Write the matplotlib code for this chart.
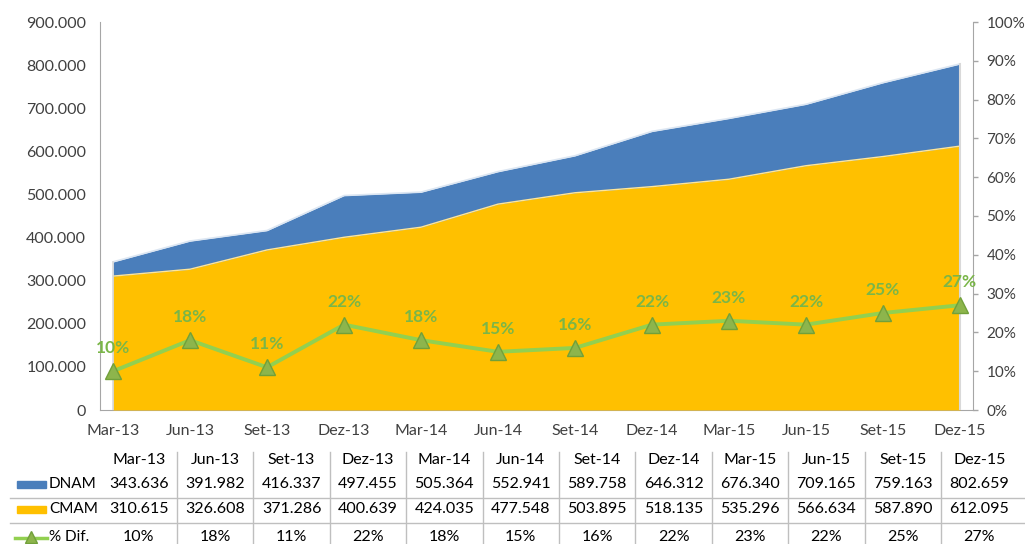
import matplotlib
matplotlib.use("Agg")
import matplotlib.pyplot as plt
from matplotlib.ticker import FuncFormatter, MultipleLocator
from matplotlib.patches import Rectangle
from matplotlib.lines import Line2D

plt.rcParams['font.family'] = ['Lato', 'DejaVu Sans']

meses = ['Mar-13', 'Jun-13', 'Set-13', 'Dez-13', 'Mar-14', 'Jun-14',
         'Set-14', 'Dez-14', 'Mar-15', 'Jun-15', 'Set-15', 'Dez-15']
dnam = [343636, 391982, 416337, 497455, 505364, 552941,
        589758, 646312, 676340, 709165, 759163, 802659]
cmam = [310615, 326608, 371286, 400639, 424035, 477548,
        503895, 518135, 535296, 566634, 587890, 612095]
dif = [10, 18, 11, 22, 18, 15, 16, 22, 23, 22, 25, 27]

azul = '#4A7EBB'
laranja = '#FFC000'
verde = '#92D050'
cinza = '#A6A6A6'
texto = '#404040'
fs = 11.5

W, H = 1025, 544
fig = plt.figure(figsize=(W / 100, H / 100), dpi=100)

x = list(range(len(meses)))
ax = fig.add_axes([100 / W, 1 - 410 / H, 873 / W, 388 / H])
ax.fill_between(x, dnam, color=azul, lw=0, zorder=2)
ax.plot(x, dnam, color='#DCE6F2', lw=1.2, zorder=3)
ax.fill_between(x, cmam, color=laranja, lw=0, zorder=4)
ax.plot(x, cmam, color='#FFE699', lw=1, zorder=5)
# bordas laterais das áreas
ax.plot([x[0], x[0]], [0, dnam[0]], color='#D9D9D9', lw=1.2, zorder=6)
ax.plot([x[-1], x[-1]], [0, dnam[-1]], color='#D9D9D9', lw=1.5, zorder=6)

ax.set_xlim(-0.17, len(meses) - 1 + 0.17)
ax.set_ylim(0, 900000)
ax.yaxis.set_major_locator(MultipleLocator(100000))
ax.yaxis.set_major_formatter(FuncFormatter(lambda v, p: f"{int(v):,}".replace(',', '.')))
ax.set_xticks(x)
ax.set_xticklabels(meses)
ax.tick_params(axis='both', length=0, labelsize=fs, colors=texto)
ax.tick_params(axis='x', pad=10)
ax.tick_params(axis='y', pad=10)
for s in ['top', 'right']:
    ax.spines[s].set_visible(False)
for s in ['left', 'bottom']:
    ax.spines[s].set_color(cinza)

ax2 = ax.twinx()
ax2.plot(x, [d / 100 for d in dif], color=verde, lw=2.8, marker='^', ms=11,
         mfc='#8DB54C', mec='#71A03A', mew=1, zorder=5)
for xi, d in zip(x, dif):
    ax2.annotate(f"{d}%", (xi, d / 100), xytext=(0, 16.5), textcoords='offset points',
                 ha='center', va='center', color='#7AB648', fontsize=12.5,
                 fontweight='bold')
ax2.set_ylim(0, 1)
ax2.yaxis.set_major_locator(MultipleLocator(0.1))
ax2.yaxis.set_major_formatter(FuncFormatter(lambda v, p: f"{v * 100:.0f}%"))
ax2.tick_params(axis='y', length=3.6, width=1, color=cinza, labelsize=11,
                colors=texto, pad=6)
for s in ['top', 'left', 'bottom']:
    ax2.spines[s].set_visible(False)
ax2.spines['right'].set_color(cinza)

# tabela de dados abaixo do gráfico
tab = fig.add_axes([0, 0, 1, 1], facecolor='none')
tab.set_xlim(0, W)
tab.set_ylim(H, 0)
tab.axis('off')

col0, larg = 100.6, 76.4
linhas_y = [460, 484, 509, 537]
for i, m in enumerate(meses):
    cx = col0 + larg * (i + 0.5)
    tab.text(cx, linhas_y[0], m, ha='center', va='center', fontsize=fs, color='black')
    tab.text(cx, linhas_y[1], f"{dnam[i]:,}".replace(',', '.'), ha='center', va='center',
             fontsize=fs, color='black')
    tab.text(cx, linhas_y[2], f"{cmam[i]:,}".replace(',', '.'), ha='center', va='center',
             fontsize=fs, color='black')
    tab.text(cx, linhas_y[3], f"{dif[i]}%", ha='center', va='center', fontsize=fs,
             color='black')
    if i > 0:
        tab.add_line(Line2D([col0 + larg * i] * 2, [452, H], color='#BFBFBF', lw=1))

for yy in [497.5, 523]:
    tab.add_line(Line2D([10, W], [yy, yy], color='#BFBFBF', lw=1))

tab.add_patch(Rectangle((17, 481), 29, 7, color=azul))
tab.add_patch(Rectangle((17, 506), 29, 7, color=laranja))
tab.add_line(Line2D([15, 47], [538, 538], color=verde, lw=2.5))
tab.plot([31], [537], marker='^', ms=9, mfc='#8DB54C', mec='#71A03A', clip_on=False)
for yy, nome in zip(linhas_y[1:], ['DNAM', 'CMAM', '% Dif.']):
    tab.text(49, yy, nome, ha='left', va='center', fontsize=11, color='black')

fig.savefig('out.png', dpi=100)
